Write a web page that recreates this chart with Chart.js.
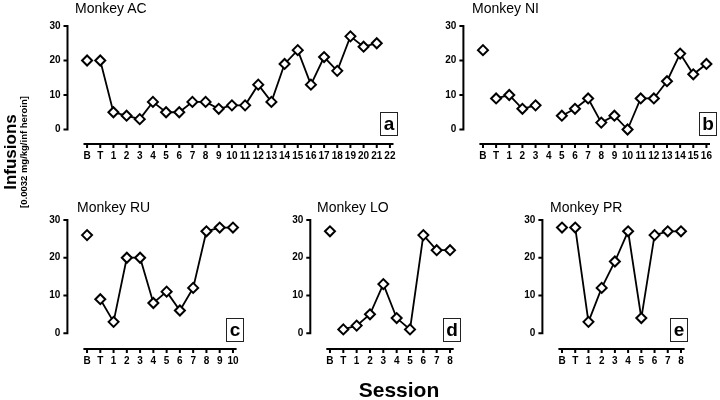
<!DOCTYPE html>
<html>
<head>
<meta charset="utf-8">
<script src="https://cdn.jsdelivr.net/npm/chart.js@4"></script>
<style>
body { margin: 0; background: #fff; }
#wrap { position: relative; width: 720px; height: 400px; overflow: hidden; font-family: "Liberation Sans", Arial, sans-serif; color: #000; }
canvas { position: absolute; left: 0; top: 0; }
.title { position: absolute; font-size: 14px; line-height: 14px; white-space: nowrap; }
.tag { position: absolute; width: 16px; height: 22px; border: 1.5px solid #222; font-weight: bold; font-size: 19px; line-height: 22px; text-align: center; }
.rot { position: absolute; white-space: nowrap; font-weight: bold; transform: translate(-50%, -50%) rotate(-90deg); }
#session { position: absolute; left: 399px; top: 379px; transform: translateX(-50%); font-size: 21px; line-height: 21px; font-weight: bold; }
</style>
</head>
<body>
<div id="wrap">
  <canvas id="c_ac" width="720" height="400"></canvas>
  <canvas id="c_ni" width="720" height="400"></canvas>
  <canvas id="c_ru" width="720" height="400"></canvas>
  <canvas id="c_lo" width="720" height="400"></canvas>
  <canvas id="c_pr" width="720" height="400"></canvas>

  <div class="title" style="left:75px; top:1px;">Monkey AC</div>
  <div class="title" style="left:472px; top:1px;">Monkey NI</div>
  <div class="title" style="left:77px; top:200px;">Monkey RU</div>
  <div class="title" style="left:317px; top:200px;">Monkey LO</div>
  <div class="title" style="left:550px; top:200px;">Monkey PR</div>

  <div class="tag" style="left:380px; top:112px;">a</div>
  <div class="tag" style="left:699px; top:112px;">b</div>
  <div class="tag" style="left:226px; top:318px;">c</div>
  <div class="tag" style="left:443px; top:318px;">d</div>
  <div class="tag" style="left:670px; top:318px;">e</div>

  <div class="rot" style="left:11px; top:152px; font-size:17px;">Infusions</div>
  <div class="rot" style="left:23px; top:152px; font-size:9.5px;">[0.0032 mg/kg/inf heroin]</div>
  <div id="session">Session</div>
</div>
<script>
// session labels (B = baseline, T = test)
var sessAC = ['B','T','1','2','3','4','5','6','7','8','9','10','11','12','13','14','15','16','17','18','19','20','21','22'];
var sessNI = ['B','T','1','2','3','4','5','6','7','8','9','10','11','12','13','14','15','16'];
var sessRU = ['B','T','1','2','3','4','5','6','7','8','9','10'];
var sessLO = ['B','T','1','2','3','4','5','6','7','8'];
var sessPR = ['B','T','1','2','3','4','5','6','7','8'];

// infusions per session
var infAC = [20,20,5,4,3,8,5,5,8,8,6,7,7,13,8,19,23,13,21,17,27,24,25,null];
var infNI = [23,9,10,6,7,null,4,6,9,2,4,0,9,9,14,22,16,19];
var infRU = [26,9,3,20,20,8,11,6,12,27,28,28];
var infLO = [27,1,2,5,13,4,1,26,22,22];
var infPR = [28,28,3,12,19,27,4,26,27,27];

var yTicks = [0,10,20,30];

var FONT = '"Liberation Sans", Arial, sans-serif';

// prism style axes: y line only 0..30, detached x line under the plot
var prismAxes = {
    id: 'prismAxes',
    beforeDatasetsDraw: function(chart) {
        var ctx = chart.ctx, a = chart.chartArea, xs = chart.scales.x, ys = chart.scales.y;
        var ax = a.left - 13;
        ctx.save();
        ctx.strokeStyle = '#000';
        ctx.lineWidth = 2;
        ctx.beginPath();
        ctx.moveTo(ax, ys.getPixelForValue(30) - 1);
        ctx.lineTo(ax, ys.getPixelForValue(0) + 1);
        yTicks.forEach(function(v) {
            var py = ys.getPixelForValue(v);
            ctx.moveTo(ax, py);
            ctx.lineTo(ax - 4, py);
        });
        ctx.stroke();
        ctx.beginPath();
        ctx.moveTo(a.left + 3, a.bottom);
        ctx.lineTo(a.right - 3, a.bottom);
        for (var i = 0; i < xs.ticks.length; i++) {
            var px = xs.getPixelForTick(i);
            ctx.moveTo(px, a.bottom);
            ctx.lineTo(px, a.bottom + 4);
        }
        ctx.stroke();
        ctx.restore();
    }
};

function makePanel(id, labels, values, area) {
    var YW = 34, XH = 30;
    return new Chart(document.getElementById(id), {
        type: 'line',
        data: {
            labels: labels,
            datasets: [{
                data: values,
                borderColor: '#000',
                borderWidth: 1.8,
                tension: 0,
                spanGaps: false,
                clip: false,
                pointStyle: 'rectRot',
                pointRadius: 5,
                pointBorderWidth: 2,
                pointBackgroundColor: '#fff',
                pointBorderColor: '#000',
                // baseline point stands alone
                segment: {
                    borderColor: function(c) { return c.p0DataIndex === 0 ? 'rgba(0,0,0,0)' : '#000'; }
                }
            }]
        },
        options: {
            responsive: false,
            animation: false,
            events: [],
            layout: {
                padding: { left: area[0] - YW, top: area[1], right: 720 - area[2], bottom: 400 - area[3] - XH }
            },
            plugins: { legend: { display: false }, tooltip: { enabled: false } },
            scales: {
                x: {
                    offset: true,
                    grid: { display: false, drawTicks: false },
                    border: { display: false },
                    afterFit: function(s) { s.height = XH; },
                    ticks: { autoSkip: false, maxRotation: 0, padding: 6, color: '#000',
                             font: { family: FONT, size: 10, weight: 'bold' } }
                },
                y: {
                    min: -4.2,
                    max: 30,
                    grid: { display: false, drawTicks: false },
                    border: { display: false },
                    afterFit: function(s) { s.width = YW; },
                    afterBuildTicks: function(s) { s.ticks = yTicks.map(function(v) { return { value: v }; }); },
                    ticks: { padding: 20, color: '#000', font: { family: FONT, size: 10, weight: 'bold' } }
                }
            }
        },
        plugins: [prismAxes]
    });
}

// plot areas: left, top, right, bottom
makePanel('c_ac', sessAC, infAC, [80.5, 14, 396.5, 144]);
makePanel('c_ni', sessNI, infNI, [476.4, 14, 714.7, 144]);
makePanel('c_ru', sessRU, infRU, [80.4, 220, 239.6, 349]);
makePanel('c_lo', sessLO, infLO, [323.3, 220, 456.7, 349]);
makePanel('c_pr', sessPR, infPR, [555.4, 220, 687.6, 349]);
</script>
</body>
</html>
